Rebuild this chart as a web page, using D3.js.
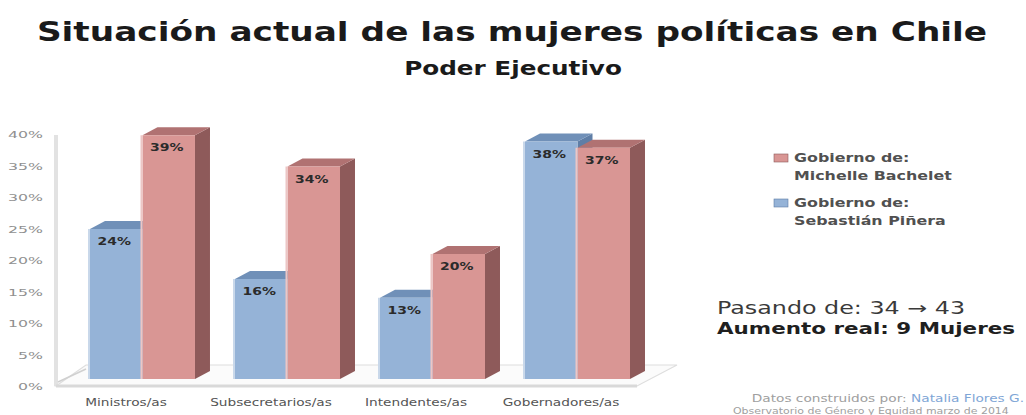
<!DOCTYPE html>
<html><head><meta charset="utf-8">
<script src="https://cdn.jsdelivr.net/npm/d3@7"></script>
<style>body{margin:0;background:#fff}svg{display:block}</style>
</head><body>
<svg id="c" width="1026" height="415"></svg>
<script>
const categories = ["Ministros/as","Subsecretarios/as","Intendentes/as","Gobernadores/as"];
const seriesNames = ["Sebastián Piñera","Michelle Bachelet"];
const pinera = [24,16,13,38];
const bachelet = [39,34,20,37];
const yTicks = [0,5,10,15,20,25,30,35,40];
const title = "Situación actual de las mujeres políticas en Chile";
const subtitle = "Poder Ejecutivo";

const svg = d3.select("#c");
const font = "DejaVu Sans, Verdana, sans-serif";
const colors = {
  "Sebastián Piñera": {front:"#95b3d7", top:"#7090b8", side:"#5f7ea6", edge:"#c9d8ea"},
  "Michelle Bachelet": {front:"#d99694", top:"#b07272", side:"#8e5a5a", edge:"#ecc6c5"}
};
const dx = 15, dy = 8;

// stretched text helper (reference image is horizontally stretched)
function stext(parent, x, yy, sx, opts){
  const t = parent.append("text").attr("x",0).attr("y",0)
    .attr("transform",`translate(${x},${yy}) scale(${sx},1)`)
    .attr("font-family",font)
    .attr("text-anchor",opts.anchor||"start")
    .attr("font-size",opts.size)
    .attr("font-weight",opts.weight||"normal")
    .attr("fill",opts.fill||"#333");
  if(opts.text!==undefined) t.text(opts.text);
  return t;
}

const x0 = d3.scaleBand().domain(categories).range([90,630]).paddingInner(0.276).paddingOuter(0);
const x1 = d3.scaleBand().domain(seriesNames).range([0,x0.bandwidth()]);
const y = d3.scaleLinear().domain([0,40]).range([379,129]);
const yAxisScale = d3.scaleLinear().domain([0,40]).range([387,135]);

// titles
stext(svg,512,41,1.32,{anchor:"middle",size:26,weight:"bold",fill:"#1a1a1a",text:title});
stext(svg,513,75,1.3,{anchor:"middle",size:19,weight:"bold",fill:"#1a1a1a",text:subtitle});

// wall and floor
const g = svg.append("g");
g.append("line").attr("x1",56).attr("x2",56).attr("y1",yAxisScale(40)).attr("y2",386)
  .attr("stroke","#e2e2e2").attr("stroke-width",4);
g.append("path").attr("d",`M56,386 L637,386 L677,365 L86,365 Z`)
  .attr("fill","#fbfbfb").attr("stroke","#dedede").attr("stroke-width",1.2);
g.append("line").attr("x1",56).attr("x2",637).attr("y1",386).attr("y2",386)
  .attr("stroke","#d9d9d9").attr("stroke-width",3);
g.append("line").attr("x1",58).attr("x2",86).attr("y1",382).attr("y2",369)
  .attr("stroke","#d0d0d0").attr("stroke-width",1.5);

// y axis labels
const yAxis = d3.axisLeft(yAxisScale).tickValues(yTicks).tickSize(0).tickPadding(0)
  .tickFormat(d=>d+"%");
const ya = svg.append("g").attr("transform","translate(43,0)").call(yAxis);
ya.select(".domain").remove();
ya.selectAll("text").attr("font-family",font).attr("font-size",9).attr("transform","scale(1.75,1)")
  .attr("fill","#909090");

// category labels
categories.forEach((c)=>{
  stext(svg,x0(c)+36,406,1.37,{anchor:"middle",size:10,fill:"#555",text:c});
});

// bars
const data = categories.map((c,i)=>({cat:c, vals:[{s:seriesNames[0],v:pinera[i]},{s:seriesNames[1],v:bachelet[i]}]}));
const bars = svg.append("g");
data.forEach(d=>{
  d.vals.forEach(b=>{
    const xl = x0(d.cat)+x1(b.s), w = x1.bandwidth(), yt = y(b.v), yb = y(0);
    const col = colors[b.s];
    const bg = bars.append("g");
    bg.append("path").attr("d",`M${xl+w},${yt} L${xl+w+dx},${yt-dy} L${xl+w+dx},${yb-dy} L${xl+w},${yb} Z`).attr("fill",col.side);
    bg.append("path").attr("d",`M${xl},${yt} L${xl+dx},${yt-dy} L${xl+w+dx},${yt-dy} L${xl+w},${yt} Z`).attr("fill",col.top);
    bg.append("rect").attr("x",xl).attr("y",yt).attr("width",w).attr("height",yb-yt).attr("fill",col.front);
    bg.append("line").attr("x1",xl-1).attr("x2",xl-1).attr("y1",yt).attr("y2",yb).attr("stroke",col.edge).attr("stroke-width",2);
    stext(bg,xl+w/2-2,yt+16,1.4,{anchor:"middle",size:10,weight:"bold",fill:"#2b2b2b",text:b.v+"%"});
  });
});

// legend
const legend = [{s:"Michelle Bachelet", y:158},{s:"Sebastián Piñera", y:203}];
legend.forEach(l=>{
  svg.append("rect").attr("x",774).attr("y",l.y-4).attr("width",14).attr("height",8).attr("fill",colors[l.s].front)
    .attr("stroke",colors[l.s].side).attr("stroke-width",0.6);
  stext(svg,794,l.y+4,1.38,{size:11.5,weight:"bold",fill:"#505050",text:"Gobierno de:"});
  stext(svg,794,l.y+22,1.38,{size:11.5,weight:"bold",fill:"#505050",text:l.s});
});

// annotation
stext(svg,717,314,1.4,{size:17,fill:"#3a3a3a",text:"Pasando de: 34 \u2192 43"});
stext(svg,717,334,1.34,{size:16,weight:"bold",fill:"#1f1f1f",text:"Aumento real: 9 Mujeres"});

// source
const src = stext(svg,1024,402,1.37,{anchor:"end",size:10,fill:"#a0a0a0"});
src.append("tspan").text("Datos construidos por: ");
src.append("tspan").attr("fill","#7fa6d6").text("Natalia Flores G.");
stext(svg,733,413.5,1.22,{size:9,fill:"#a0a0a0",text:"Observatorio de Género y Equidad marzo de 2014"});
</script>
</body></html>
